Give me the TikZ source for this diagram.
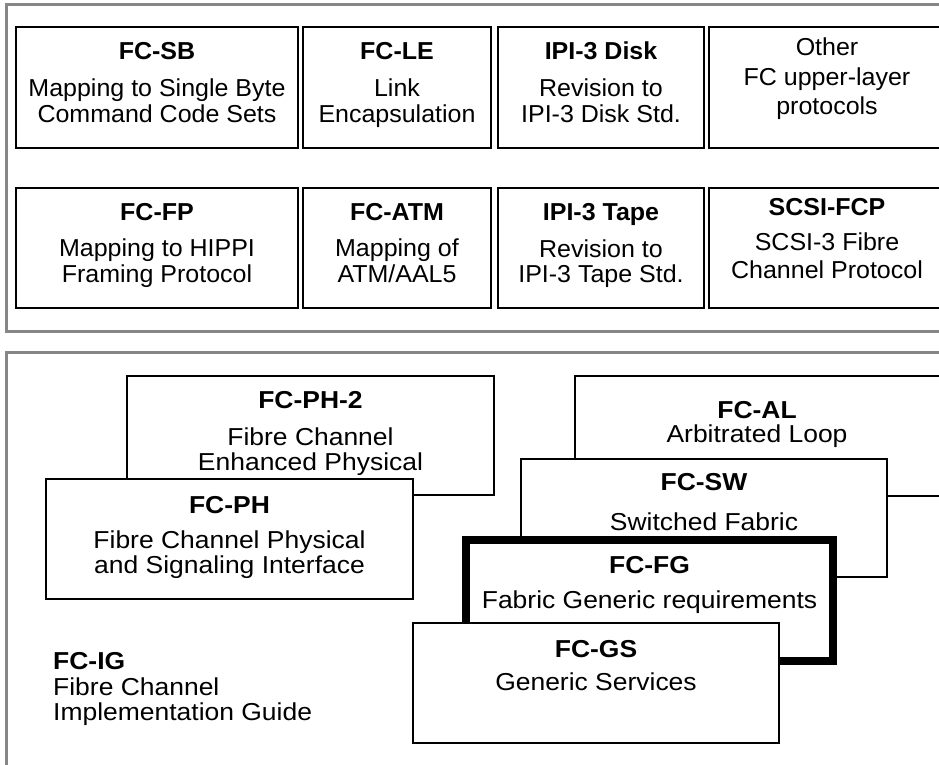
\documentclass[tikz,border=0pt]{standalone}
\usepackage{fontspec}
\setmainfont{Liberation Sans}[FakeStretch=1.02]
\newfontfamily\lowfont{Liberation Sans}[FakeStretch=1.08]
\newcommand\myfs{\fontsize{24.5}{28}\selectfont}
\newcommand\lowfs{\lowfont\fontsize{24.5}{28}\selectfont}
\definecolor{framegray}{HTML}{868686}
\tikzset{
  box/.style={draw=black, line width=2.2pt, fill=white, inner sep=0pt, outer sep=0pt},
  thickbox/.style={box, line width=8pt},
  frm/.style={draw=framegray, line width=3pt},
  ttl/.style={anchor=base, font=\myfs\bfseries, inner sep=0pt},
  txt/.style={anchor=base, font=\myfs, inner sep=0pt},
  lttl/.style={anchor=base, font=\lowfs\bfseries, inner sep=0pt},
  ltxt/.style={anchor=base, font=\lowfs, inner sep=0pt},
  txtw/.style={anchor=base west, font=\lowfs, inner sep=0pt},
  ttlw/.style={anchor=base west, font=\lowfs\bfseries, inner sep=0pt},
}
\begin{document}
\begin{tikzpicture}[x=1pt, y=-1pt]
\useasboundingbox (0,0) rectangle (939,765);
\clip (0,0) rectangle (939,765);
\fill[white] (0,0) rectangle (939,765);
% frames
\draw[frm] (6,4.5) rectangle (990,331.5);
\draw[frm] (6,352) rectangle (990,820);
% ---------- upper row 1
\node[box, minimum width=282pt, minimum height=121pt] (sb) at (157,87.5) {};
\node[ttl] (sbT) at (157,60) {FC-SB};
\node[txt] (sbA) at (157,97) {Mapping to Single Byte};
\node[txt] (sbB) at (157,122) {Command Code Sets};
\node[box, minimum width=188pt, minimum height=121pt] (le) at (397,87.5) {};
\node[ttl] (leT) at (397,60) {FC-LE};
\node[txt] (leA) at (397,97) {Link};
\node[txt] (leB) at (397,122) {Encapsulation};
\node[box, minimum width=206pt, minimum height=121pt] (disk) at (601,87.5) {};
\node[ttl] (diskT) at (601,60) {IPI-3 Disk};
\node[txt] (diskA) at (601,97) {Revision to};
\node[txt] (diskB) at (601,122) {IPI-3 Disk Std.};
\node[box, minimum width=236pt, minimum height=121pt] (other) at (827,87.5) {};
\node[txt] (otherA) at (827,56) {Other};
\node[txt] (otherB) at (827,86) {FC upper-layer};
\node[txt] (otherC) at (827,115) {protocols};
% ---------- upper row 2
\node[box, minimum width=282pt, minimum height=120pt] (fp) at (157,248) {};
\node[ttl] (fpT) at (157,220) {FC-FP};
\node[txt] (fpA) at (157,256) {Mapping to HIPPI};
\node[txt] (fpB) at (157,282) {Framing Protocol};
\node[box, minimum width=188pt, minimum height=120pt] (atm) at (397,248) {};
\node[ttl] (atmT) at (397,220) {FC-ATM};
\node[txt] (atmA) at (397,256) {Mapping of};
\node[txt] (atmB) at (397,282) {ATM/AAL5};
\node[box, minimum width=206pt, minimum height=120pt] (tape) at (601,248) {};
\node[ttl] (tapeT) at (601,220) {IPI-3 Tape};
\node[txt] (tapeA) at (601,257) {Revision to};
\node[txt] (tapeB) at (601,282) {IPI-3 Tape Std.};
\node[box, minimum width=236pt, minimum height=120pt] (scsi) at (827,248) {};
\node[ttl] (scsiT) at (827,215) {SCSI-FCP};
\node[txt] (scsiA) at (827,250) {SCSI-3 Fibre};
\node[txt] (scsiB) at (827,278) {Channel Protocol};
% ---------- lower section
\node[box, minimum width=367pt, minimum height=119pt] (ph2) at (310.5,435.5) {};
\node[lttl] (ph2T) at (310.5,408) {FC-PH-2};
\node[ltxt] (ph2A) at (310.5,445) {Fibre Channel};
\node[ltxt] (ph2B) at (310.5,470) {Enhanced Physical};
\node[box, minimum width=367pt, minimum height=120pt] (ph) at (229.5,539) {};
\node[lttl] (phT) at (229.5,513) {FC-PH};
\node[ltxt] (phA) at (229.5,548) {Fibre Channel Physical};
\node[ltxt] (phB) at (229.5,573) {and Signaling Interface};
\node[box, minimum width=368pt, minimum height=120pt] (al) at (759,436) {};
\node[lttl] (alT) at (757,418) {FC-AL};
\node[ltxt] (alA) at (757,442) {Arbitrated Loop};
\node[box, minimum width=366pt, minimum height=118pt] (sw) at (704,518) {};
\node[lttl] (swT) at (704,490) {FC-SW};
\node[ltxt] (swA) at (704,530) {Switched Fabric};
\node[thickbox, minimum width=367pt, minimum height=121pt] (fg) at (649.5,600.5) {};
\node[lttl] (fgT) at (649.5,573) {FC-FG};
\node[ltxt] (fgA) at (649.5,608) {Fabric Generic requirements};
\node[box, minimum width=366pt, minimum height=120pt] (gs) at (596,683) {};
\node[lttl] (gsT) at (596,657) {FC-GS};
\node[ltxt] (gsA) at (596,690) {Generic Services};
\node[ttlw] (igT) at (53,669) {FC-IG};
\node[txtw] (igA) at (53,695) {Fibre Channel};
\node[txtw] (igB) at (53,720) {Implementation Guide};
\end{tikzpicture}
\end{document}
